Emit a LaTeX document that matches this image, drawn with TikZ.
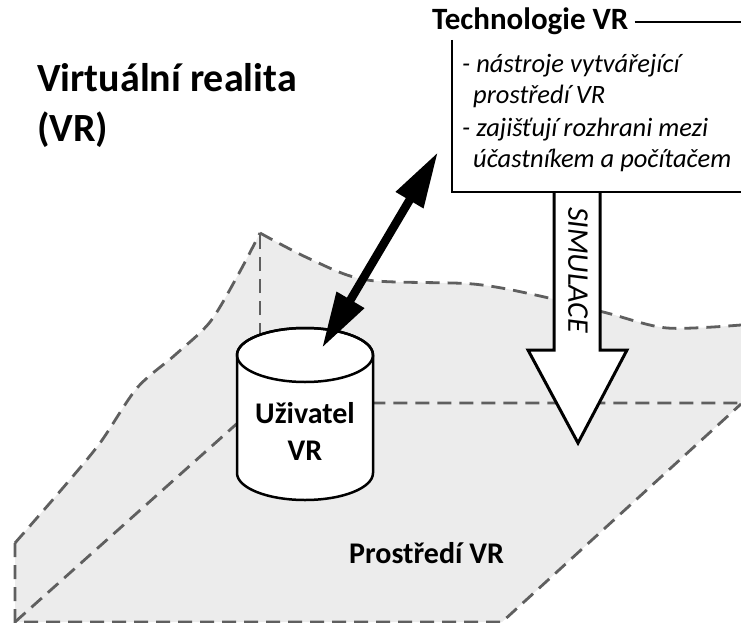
\documentclass[tikz,border=0pt]{standalone}
\usepackage{fontspec}
\setmainfont{Carlito}
\usetikzlibrary{arrows.meta}
\definecolor{surface}{RGB}{236,236,236}
\definecolor{edgegray}{RGB}{95,95,95}
\tikzset{
  planeedge/.style={draw=edgegray, line width=2.8pt, dash pattern=on 14pt off 8pt},
  outline/.style={draw=black, line width=2.5pt, line join=miter},
  titletext/.style={inner sep=0pt, font=\fontsize{40}{48}\selectfont\bfseries},
  headtext/.style={inner sep=0pt, font=\fontsize{31}{37}\selectfont\bfseries},
  itemtext/.style={inner sep=0pt, font=\fontsize{26.5}{32}\selectfont\itshape},
  labeltext/.style={inner sep=0pt, font=\fontsize{30}{37}\selectfont\bfseries},
}
\begin{document}
\begin{tikzpicture}[x=1pt, y=-1pt]
\useasboundingbox (0,0) rectangle (741,623);

% ---- environment: left wall, back wall and floor ----
\fill[surface] (15,622)
  -- plot[smooth] coordinates {(15,543) (62,489) (100,443) (137,388) (175,355) (210,322) (238,275) (260,233)}
  -- plot[smooth] coordinates {(260,233) (310,259) (367,280) (473,284) (540,296) (607,313) (667,328) (741,325)}
  -- (741,404) -- (502,622) -- cycle;
\draw[planeedge] plot[smooth] coordinates {(15,543) (62,489) (100,443) (137,388) (175,355) (210,322) (238,275) (260,233)};
\draw[planeedge] plot[smooth] coordinates {(260,233) (310,259) (367,280) (473,284) (540,296) (607,313) (667,328) (741,325)};
\draw[planeedge] (15,543) -- (15,622) -- (502,622) -- (741,404);
\draw[planeedge] (15,622) -- (260,403) -- (741,403);
\draw[planeedge] (260,403) -- (260,234);

% ---- title ----
\node[titletext, anchor=base west] (title1) at (37,92) {Virtuální realita};
\node[titletext, anchor=base west] (title2) at (37,141) {(VR)};

% ---- technology box ----
\node[headtext, anchor=base west] (tech) at (432,30) {Technologie VR};
\draw[line width=1.6pt] (tech.base east) ++(6,-8) coordinate (rulestart) -- (741,22);
\draw[outline] (452,40) -- (452,192) -- (741,192);
\node[itemtext, anchor=base west] (item1) at (462,73) {- nástroje vytvářející};
\node[itemtext, anchor=base west] (item2) at (473,104) {prostředí VR};
\node[itemtext, anchor=base west] (item3) at (462,136) {- zajišťují rozhrani mezi};
\node[itemtext, anchor=base west] (item4) at (473,167) {účastníkem a počítačem};

% ---- simulation block arrow ----
\draw[outline, line width=3pt, fill=white] (554,192) -- (554,350) -- (528,350) -- (578,443)
  -- (627,350) -- (600,350) -- (600,192);
\draw[outline] (452,192) -- (741,192);
\node[inner sep=0pt, rotate=-90, font=\fontsize{30}{36}\selectfont\itshape] (sim) at (578,270) {SIMULACE};

% ---- user cylinder ----
\draw[outline, fill=white] (237,355) -- (237,473)
  arc[start angle=180, end angle=360, x radius=68pt, y radius=27pt]
  -- (373,355)
  arc[start angle=0, end angle=180, x radius=68pt, y radius=27pt] -- cycle;
\draw[outline] (305,355) ellipse[x radius=68pt, y radius=27pt];
\node[labeltext, anchor=base] (user1) at (305,423) {Uživatel};
\node[labeltext, anchor=base] (user2) at (305,460) {VR};

% ---- interaction arrow between user and technology ----
\coordinate (usertip) at (322,348);
\coordinate (techtip) at (438,152);
\draw[line width=8.5pt, {Triangle[length=56pt,width=30pt]}-{Triangle[length=56pt,width=30pt]}] (usertip) -- (techtip);

% ---- environment label ----
\node[labeltext, anchor=base west] (env) at (349,563) {Prostředí VR};
\end{tikzpicture}
\end{document}
